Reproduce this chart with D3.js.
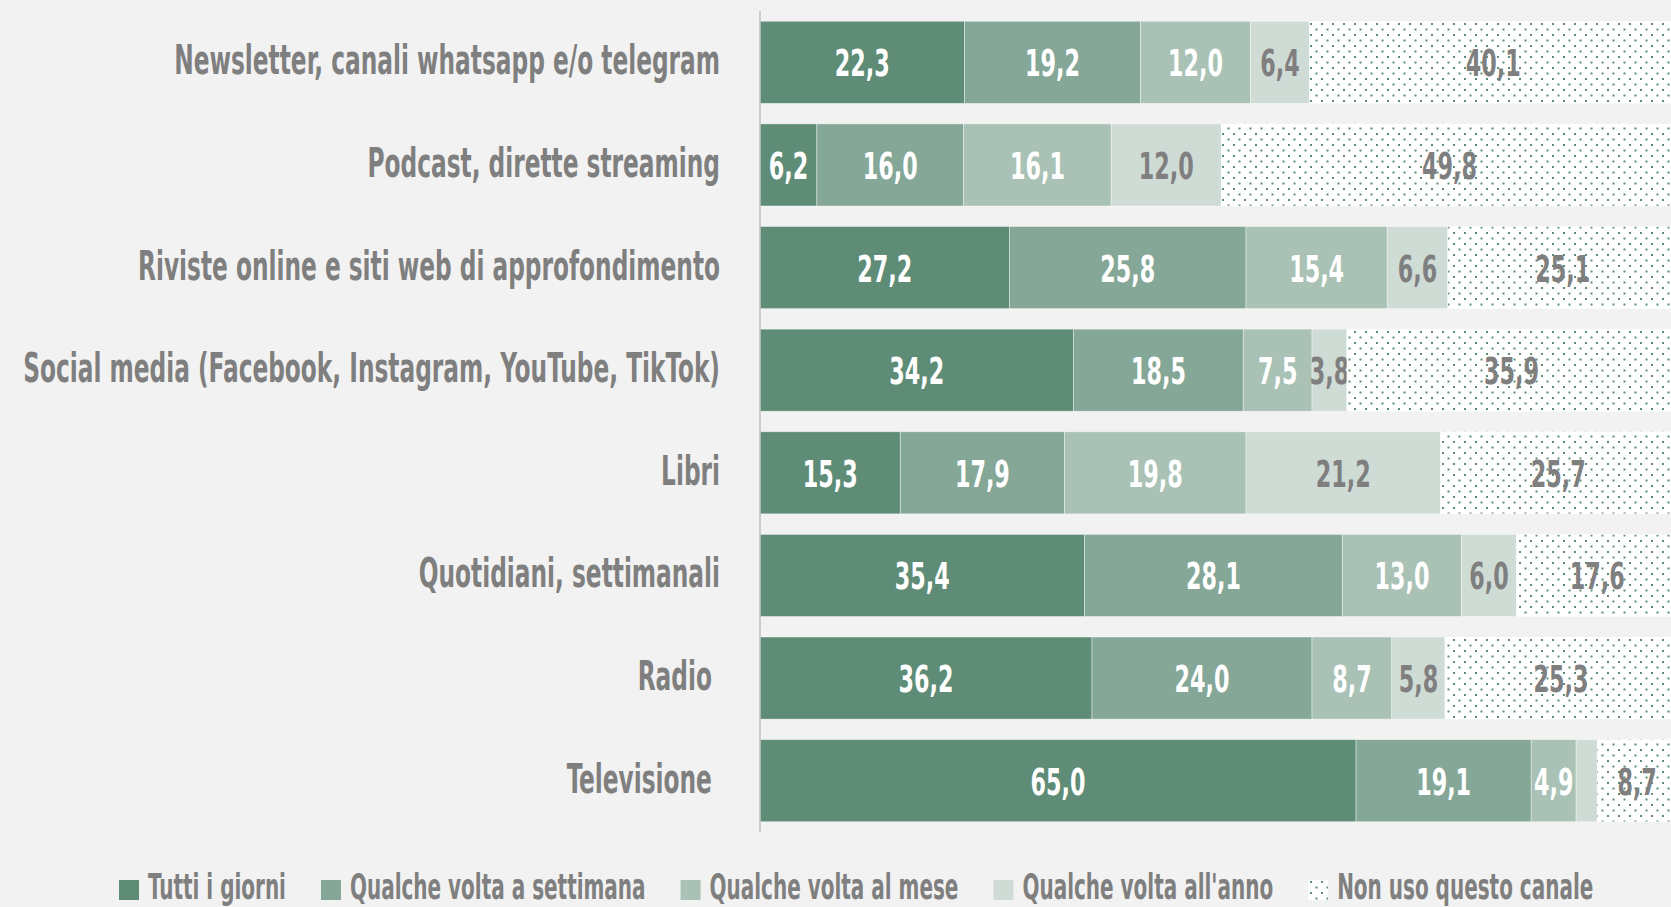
<!DOCTYPE html>
<html>
<head>
    <meta charset="utf-8">
    <style>
        body {
            margin: 0;
            background: #F2F2F2;
        }
        svg {
            display: block;
        }
        text {
            font-family: 'Liberation Sans Narrow', 'DejaVu Sans Condensed', 'Liberation Sans', sans-serif;
            font-weight: bold;
            white-space: pre;
        }
    </style>
</head>
<body>
    <svg width="1671" height="907"></svg>

<script src="https://d3js.org/d3.v7.min.js"></script>
<script>
    // categories from top to bottom
    const categories = [
        "Newsletter, canali whatsapp e/o telegram",
        "Podcast, dirette streaming",
        "Riviste online e siti web di approfondimento",
        "Social media (Facebook, Instagram, YouTube, TikTok)",
        "Libri",
        "Quotidiani, settimanali",
        "Radio ",
        "Televisione "
    ]

    const seriesNames = [
        "Tutti i giorni",
        "Qualche volta a settimana",
        "Qualche volta al mese",
        "Qualche volta all'anno",
        "Non uso questo canale"
    ]

    const tuttiGiorni = [22.3, 6.2, 27.2, 34.2, 15.3, 35.4, 36.2, 65.0]
    const settimana = [19.2, 16.0, 25.8, 18.5, 17.9, 28.1, 24.0, 19.1]
    const mese = [12.0, 16.1, 15.4, 7.5, 19.8, 13.0, 8.7, 4.9]
    const anno = [6.4, 12.0, 6.6, 3.8, 21.2, 6.0, 5.8, 2.3]
    const nonUso = [40.1, 49.8, 25.1, 35.9, 25.7, 17.6, 25.3, 8.7]

    const seriesValues = [tuttiGiorni, settimana, mese, anno, nonUso]

    const colors = ["#5E8C76", "#85A797", "#A9C2B5", "#CFDBD5", "url(#dots)"]
    const labelColors = ["#FFFFFF", "#FFFFFF", "#FFFFFF", "#7F7F7F", "#7F7F7F"]
    const grey = "#7F7F7F"

    let svg = d3.select("svg")

    // the original font is very condensed: squeeze ours horizontally to the same width
    function squeeze(sample, size, target) {
        let t = svg.append("text").style("font-size", size + "px").text(sample)
        let w = t.node().getComputedTextLength()
        t.remove()
        return target / w
    }
    const labScale = squeeze("Newsletter, canali whatsapp e/o telegram", 41, 546)
    const numScale = squeeze("22,3", 38, 55)
    const legScale = squeeze("Tutti i giorni", 36, 138)

    // dotted pattern for "Non uso"
    let defs = svg.append("defs")
    let pat = defs.append("pattern")
        .attr("id", "dots")
        .attr("patternUnits", "userSpaceOnUse")
        .attr("width", 11)
        .attr("height", 11)
    pat.append("rect").attr("width", 11).attr("height", 11).attr("fill", "#FFFFFF")
    pat.append("rect").attr("x", 1).attr("y", 1).attr("width", 2).attr("height", 2).attr("fill", "#5E8C76")
    pat.append("rect").attr("x", 6.5).attr("y", 6.5).attr("width", 2).attr("height", 2).attr("fill", "#5E8C76")

    // table for the stack
    let table = categories.map((c, i) => {
        let row = { cat: c }
        seriesNames.forEach((s, j) => { row[s] = seriesValues[j][i] })
        return row
    })

    let stacked = d3.stack().keys(seriesNames)(table)

    let x = d3.scaleLinear()
        .domain([0, 100])
        .range([760, 1677])

    let y = d3.scaleBand()
        .domain(categories)
        .range([11, 832])
        .paddingInner(0.2)
        .paddingOuter(0.1)

    // bars
    let layers = svg.selectAll(".layer")
        .data(stacked)
        .join("g")
        .attr("class", "layer")

    layers.selectAll("rect")
        .data(d => d)
        .join("rect")
        .attr("x", d => x(d[0]))
        .attr("y", d => y(d.data.cat))
        .attr("width", d => x(d[1]) - x(d[0]))
        .attr("height", y.bandwidth())
        .attr("fill", function () { return colors[d3.select(this.parentNode).datum().index] })
        .attr("stroke", "#FFFFFF")
        .attr("stroke-opacity", 0.5)
        .attr("stroke-width", 0.8)

    // value labels (the tiny 2,3 of Televisione has none)
    layers.selectAll("text")
        .data(d => d.filter(v => v[1] - v[0] >= 3))
        .join("text")
        .attr("transform", d => `translate(${x((d[0] + d[1]) / 2)},${y(d.data.cat) + y.bandwidth() / 2 + 14}) scale(${numScale},1)`)
        .attr("text-anchor", "middle")
        .style("font-size", "38px")
        .attr("fill", function () { return labelColors[d3.select(this.parentNode).datum().index] })
        .text(d => d3.format(".1f")(d[1] - d[0]).replace(".", ","))

    // axis line
    svg.append("line")
        .attr("x1", 760).attr("x2", 760)
        .attr("y1", 11).attr("y2", 832)
        .attr("stroke", "#BFBFBF")
        .attr("stroke-width", 1.5)

    // category labels
    svg.selectAll(".cat")
        .data(categories)
        .join("text")
        .attr("class", "cat")
        .attr("transform", d => `translate(720,${y(d) + y.bandwidth() / 2 + 12}) scale(${labScale},1)`)
        .attr("text-anchor", "end")
        .style("font-size", "41px")
        .attr("fill", grey)
        .text(d => d)

    // legend
    let legend = svg.append("g")
    let lx = 119
    seriesNames.forEach((s, i) => {
        legend.append("rect")
            .attr("x", lx).attr("y", 880)
            .attr("width", 20).attr("height", 20)
            .attr("fill", colors[i])
        let t = legend.append("text")
            .attr("transform", `translate(${lx + 29},899) scale(${legScale},1)`)
            .style("font-size", "36px")
            .attr("fill", grey)
            .text(s)
        lx += 29 + t.node().getComputedTextLength() * legScale + 35
    })
</script>
</body>
</html>
